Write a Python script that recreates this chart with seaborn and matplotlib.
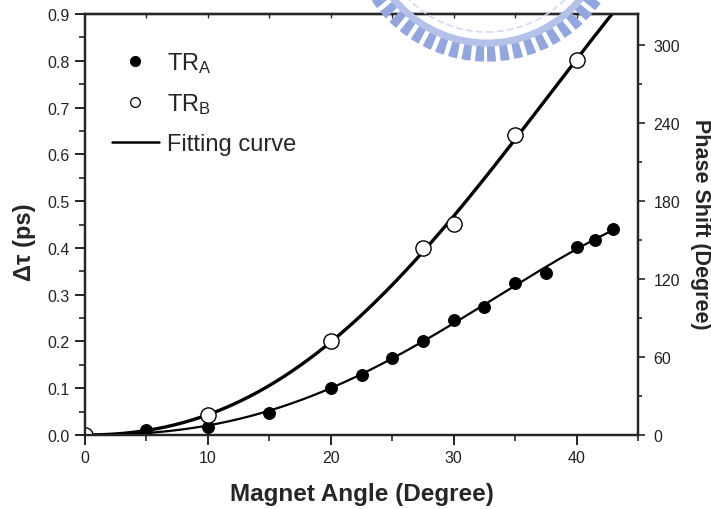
import numpy as np
import pandas as pd
import matplotlib
matplotlib.use("Agg")
import matplotlib.pyplot as plt
import seaborn as sns
from matplotlib.lines import Line2D
from matplotlib.patches import Circle
from matplotlib.ticker import MultipleLocator, FormatStrFormatter

# ---- data ----
tra_angle = [5, 10, 15, 20, 22.5, 25, 27.5, 30, 32.5, 35, 37.5, 40, 41.5, 43]
tra_dtau = [0.011, 0.018, 0.048, 0.100, 0.129, 0.165, 0.201, 0.246, 0.274, 0.326, 0.347, 0.402, 0.416, 0.441]
trb_angle = [0, 10, 20, 27.5, 30, 35, 40]
trb_dtau = [0.0, 0.043, 0.200, 0.400, 0.452, 0.641, 0.801]

x_ticks = [0, 10, 20, 30, 40]
y_ticks = [0.0, 0.1, 0.2, 0.3, 0.4, 0.5, 0.6, 0.7, 0.8, 0.9]
phase_ticks = [0, 60, 120, 180, 240, 300]

sns.set_theme(style="ticks")
plt.rcParams["font.family"] = ["Liberation Sans", "DejaVu Sans"]
plt.rcParams["mathtext.fontset"] = "custom"
plt.rcParams["mathtext.rm"] = "Liberation Sans"
plt.rcParams["mathtext.it"] = "Liberation Sans:italic"
plt.rcParams["mathtext.bf"] = "Liberation Sans:bold"

def fit_curve(x, y, xmax):
    # least-squares polynomial fit (no constant / linear term) of the measured points
    x = np.asarray(x, float); y = np.asarray(y, float)
    A = np.vstack([x**2, x**3, x**4]).T
    c, *_ = np.linalg.lstsq(A, y, rcond=None)
    xx = np.linspace(0, xmax, 200)
    return pd.DataFrame({"angle": xx, "dtau": c[0]*xx**2 + c[1]*xx**3 + c[2]*xx**4})

fitA = fit_curve(tra_angle, tra_dtau, 43)
fitB = fit_curve(trb_angle, trb_dtau, 45)

W, H = 711, 510
fig = plt.figure(figsize=(7.11, 5.10), dpi=100)
ax = fig.add_axes([85/W, 1 - 436/H, (638 - 85)/W, (436 - 15)/H])
ax.set_facecolor("none")

# watermark-like emblem arc (decorative, behind the plot)
cxp, cyp = 487, H + 77
inner = Circle((cxp, cyp), 110, transform=None, fill=False, lw=1.2,
               edgecolor="#d3dbf1", linestyle=(0, (4, 2)), zorder=0.2, clip_on=False)
ring = Circle((cxp, cyp), 121, transform=None, fill=False, lw=5,
              edgecolor="#b4c2ea", zorder=0.2, clip_on=False)
teeth = Circle((cxp, cyp), 132, transform=None, fill=False, lw=11,
               edgecolor="#93a7de", linestyle=(0, (0.55, 0.3)), zorder=0.2, clip_on=False)
for p in (inner, ring, teeth):
    fig.patches.append(p)
    p.set_figure(fig)

sns.lineplot(data=fitB, x="angle", y="dtau", ax=ax, color="black", lw=2.4, zorder=3)
sns.lineplot(data=fitA, x="angle", y="dtau", ax=ax, color="black", lw=1.6, zorder=3)
sns.scatterplot(x=tra_angle, y=tra_dtau, ax=ax, s=72, color="black", edgecolor="black",
                linewidth=0.8, zorder=4)
sns.scatterplot(x=trb_angle, y=trb_dtau, ax=ax, s=120, facecolor="white", edgecolor="black",
                linewidth=1.0, zorder=4)

ax.set_xlim(0, 45)
ax.set_ylim(0, 0.9)
ax.set_xticks(x_ticks)
ax.set_yticks(y_ticks)
ax.xaxis.set_minor_locator(MultipleLocator(5))
ax.yaxis.set_minor_locator(MultipleLocator(0.05))
ax.yaxis.set_major_formatter(FormatStrFormatter("%.1f"))
ax.tick_params(which="major", direction="out", length=7, width=1.2, labelsize=11.5, pad=4,
               colors="black", labelcolor="#222222")
ax.tick_params(which="minor", direction="out", length=4, width=1.2)
for s in ax.spines.values():
    s.set_linewidth(1.6)
    s.set_color("black")

sec = ax.secondary_xaxis("top")
sec.set_xticks([5*i for i in range(1, 9)])
sec.tick_params(direction="in", length=3, width=1.0, labeltop=False)
sec.spines["top"].set_linewidth(1.6)

ax2 = ax.twinx()
ax2.set_ylim(0, 0.9 * 360)
ax2.set_yticks(phase_ticks)
ax2.yaxis.set_minor_locator(MultipleLocator(30))
ax2.tick_params(which="major", direction="out", length=5, width=1.2, labelsize=11.5, pad=6,
                labelcolor="#222222")
ax2.tick_params(which="minor", direction="out", length=3, width=1.2)
for s in ax2.spines.values():
    s.set_linewidth(1.6)

ax.set_xlabel("Magnet Angle (Degree)", fontsize=17.5, fontweight="bold", labelpad=12)
ax.set_ylabel("\u0394\u03c4 (ps)", fontsize=17, fontweight="bold")
ax.yaxis.set_label_coords((24 - 85) / 553, (436 - 242) / 421)
ax.yaxis.label.set_verticalalignment("center")
ax2.set_ylabel("Phase Shift (Degree)", fontsize=15.5, fontweight="bold", rotation=-90)
ax2.yaxis.set_label_coords((700 - 85) / 553, (436 - 224) / 421)
ax2.yaxis.label.set_verticalalignment("center")

handles = [
    Line2D([], [], ls="none", marker="o", ms=7, mfc="black", mec="black"),
    Line2D([], [], ls="none", marker="o", ms=7, mfc="white", mec="black", mew=0.9),
    Line2D([], [], color="black", lw=1.8),
]
labels = ["TR$_\\mathrm{A}$", "TR$_\\mathrm{B}$", "Fitting curve"]
ax.legend(handles, labels, loc="upper left", bbox_to_anchor=(0.01, 0.965), frameon=False,
          fontsize=17, handlelength=2.0, handletextpad=0.35, labelspacing=0.7)

fig.savefig("out.png", dpi=100)
